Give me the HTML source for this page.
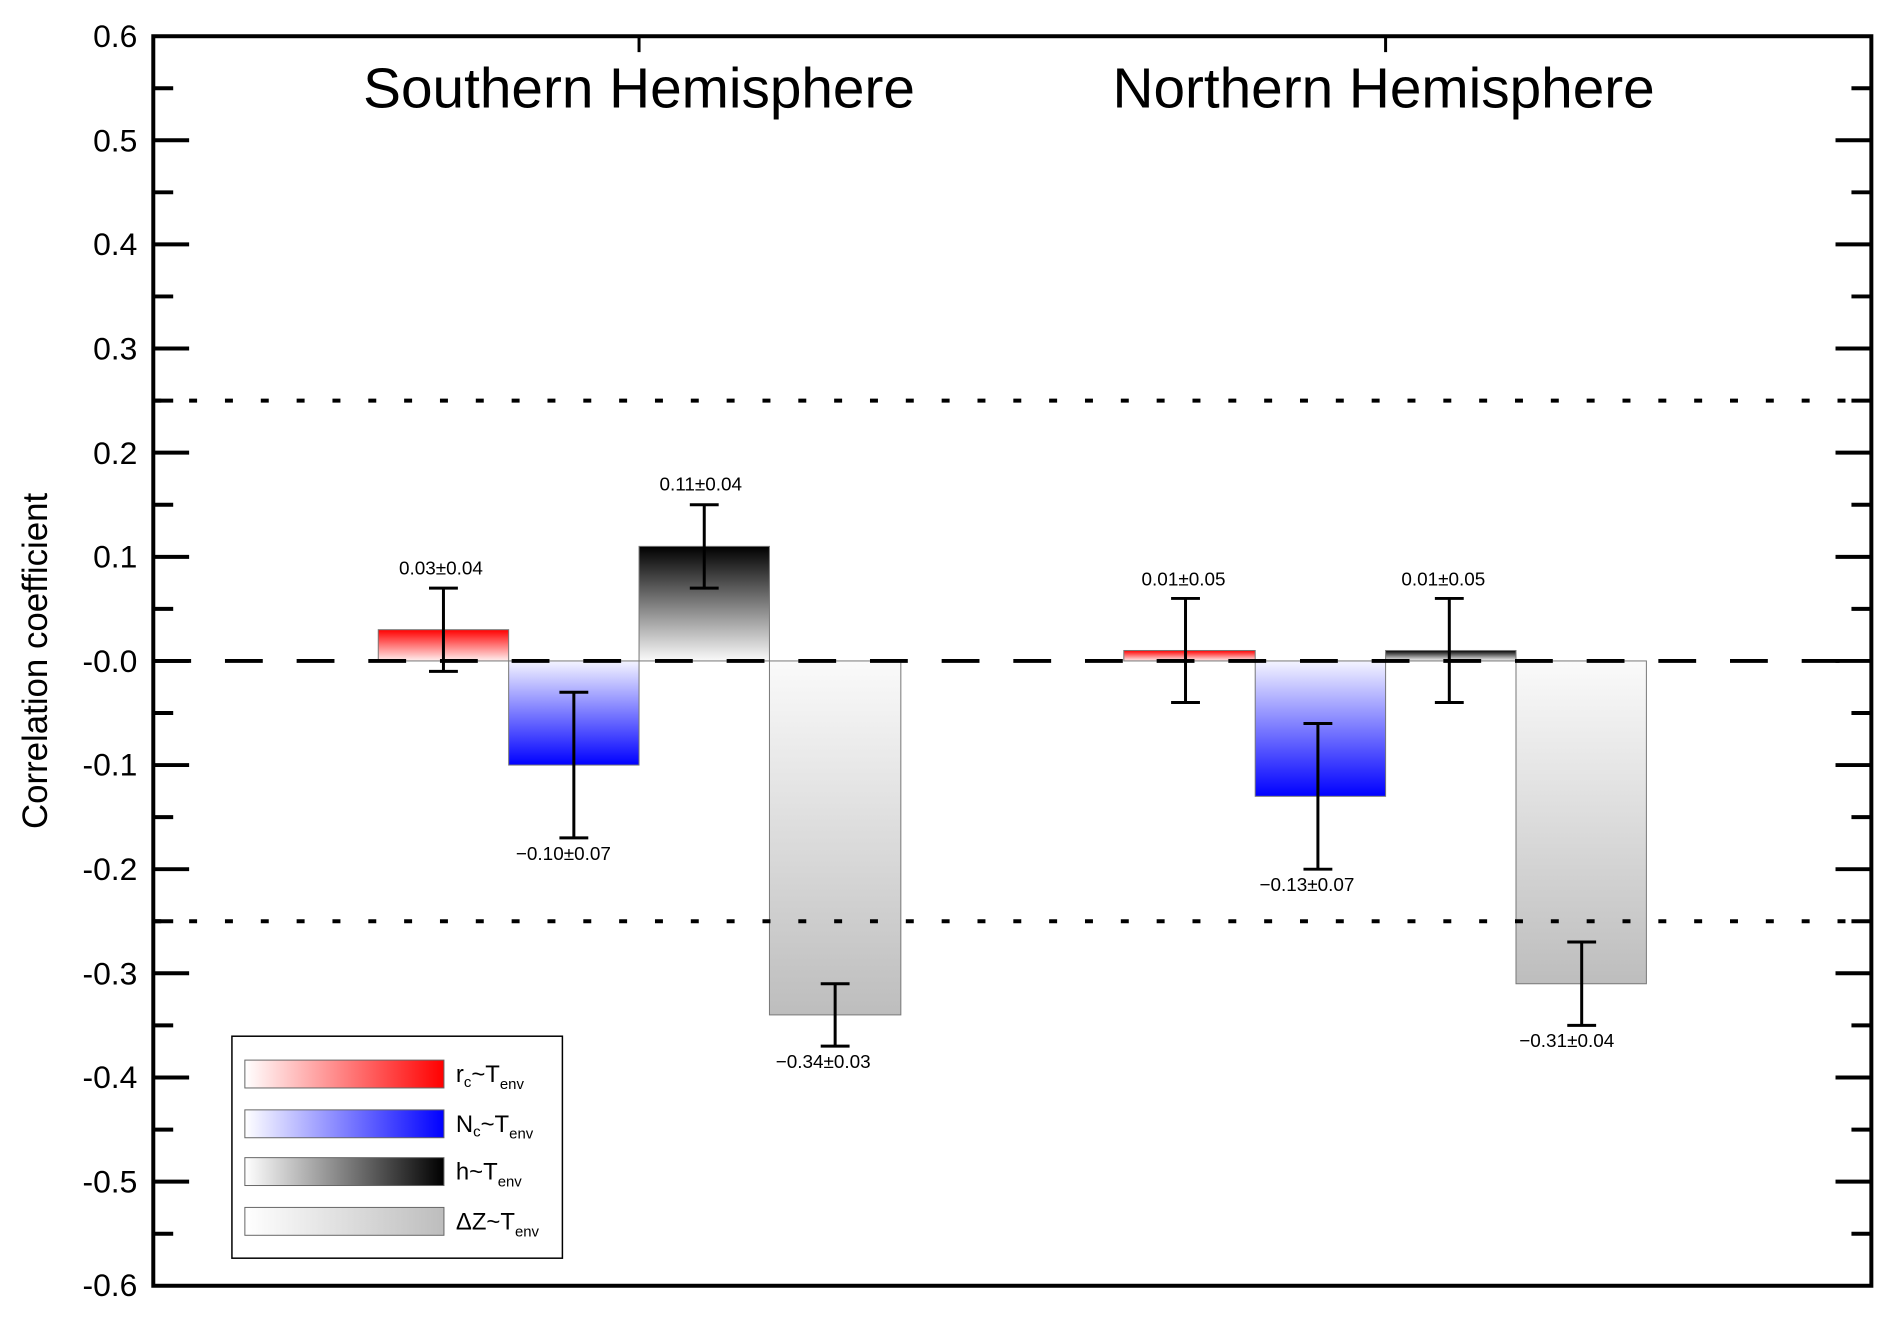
<!DOCTYPE html>
<html><head><meta charset="utf-8"><style>html,body{margin:0;padding:0;background:#fff}svg{display:block}</style></head>
<body>
<svg width="1892" height="1322" viewBox="0 0 1892 1322" xmlns="http://www.w3.org/2000/svg" font-family="Liberation Sans, sans-serif">
<defs>
<linearGradient id="rv" x1="0" y1="0" x2="0" y2="1"><stop offset="0" stop-color="#ff0000"/><stop offset="1" stop-color="#fff0f0"/></linearGradient>
<linearGradient id="bv" x1="0" y1="0" x2="0" y2="1"><stop offset="0" stop-color="#f4f4ff"/><stop offset="1" stop-color="#0000ff"/></linearGradient>
<linearGradient id="kv" x1="0" y1="0" x2="0" y2="1"><stop offset="0" stop-color="#000"/><stop offset="1" stop-color="#fafafa"/></linearGradient>
<linearGradient id="gv" x1="0" y1="0" x2="0" y2="1"><stop offset="0" stop-color="#fafafa"/><stop offset="1" stop-color="#bdbdbd"/></linearGradient>
<linearGradient id="rh"><stop offset="0" stop-color="#fff"/><stop offset="1" stop-color="#ff0000"/></linearGradient>
<linearGradient id="bh"><stop offset="0" stop-color="#fff"/><stop offset="1" stop-color="#0000ff"/></linearGradient>
<linearGradient id="kh"><stop offset="0" stop-color="#fff"/><stop offset="1" stop-color="#000"/></linearGradient>
<linearGradient id="gh"><stop offset="0" stop-color="#fff"/><stop offset="1" stop-color="#bdbdbd"/></linearGradient>
</defs>
<g transform="scale(0.9954)">
<!-- bars SH -->
<rect x="380" y="632.6" width="131" height="31.4" fill="url(#rv)" stroke="#777" stroke-width="1"/>
<rect x="511" y="664" width="131" height="104.6" fill="url(#bv)" stroke="#777" stroke-width="1"/>
<rect x="642" y="548.9" width="131" height="115.1" fill="url(#kv)" stroke="#777" stroke-width="1"/>
<rect x="773" y="664" width="132" height="355.6" fill="url(#gv)" stroke="#777" stroke-width="1"/>
<!-- bars NH -->
<rect x="1129" y="653.5" width="132" height="10.5" fill="url(#rv)" stroke="#777" stroke-width="1"/>
<rect x="1261" y="664" width="131" height="136" fill="url(#bv)" stroke="#777" stroke-width="1"/>
<rect x="1392" y="653.5" width="131" height="10.5" fill="url(#kv)" stroke="#777" stroke-width="1"/>
<rect x="1523" y="664" width="131" height="324.3" fill="url(#gv)" stroke="#777" stroke-width="1"/>

<line x1="154" y1="402.5" x2="1880" y2="402.5" stroke="#000" stroke-width="4" stroke-dasharray="8 28"/>
<line x1="154" y1="925.5" x2="1880" y2="925.5" stroke="#000" stroke-width="4" stroke-dasharray="8 28"/>
<line x1="154" y1="664" x2="1880" y2="664" stroke="#000" stroke-width="4" stroke-dasharray="38 34"/>

<g stroke="#000" stroke-width="3" fill="none">
<path d="M445.5 590.8V674.5M431 590.8h29M431 674.5h29"/>
<path d="M576.5 695.4V841.8M562 695.4h29M562 841.8h29"/>
<path d="M707.5 507.1V590.8M693 507.1h29M693 590.8h29"/>
<path d="M839 988.3V1051M824.5 988.3h29M824.5 1051h29"/>
<path d="M1191 601.2V705.8M1176.5 601.2h29M1176.5 705.8h29"/>
<path d="M1324 726.8V873.2M1309.5 726.8h29M1309.5 873.2h29"/>
<path d="M1456 601.2V705.8M1441.5 601.2h29M1441.5 705.8h29"/>
<path d="M1589 946.4V1030.1M1574.5 946.4h29M1574.5 1030.1h29"/>
</g>

<g font-size="19" text-anchor="middle" fill="#000">
<text x="443" y="577">0.03±0.04</text>
<text x="704" y="493">0.11±0.04</text>
<text x="566" y="864">−0.10±0.07</text>
<text x="827" y="1073">−0.34±0.03</text>
<text x="1189" y="588">0.01±0.05</text>
<text x="1450" y="588">0.01±0.05</text>
<text x="1313" y="895">−0.13±0.07</text>
<text x="1574" y="1052">−0.31±0.04</text>
</g>

<rect x="154" y="36.4" width="1726" height="1255.3" fill="none" stroke="#000" stroke-width="4"/>
<g stroke="#000" stroke-width="4">
<path d="M154 140.9h36M154 245.5h36M154 350.1h36M154 454.7h36M154 559.4h36M154 664h36M154 768.6h36M154 873.2h36M154 977.8h36M154 1082.5h36M154 1187.1h36"/>
<path d="M154 88.7h20M154 193.2h20M154 297.8h20M154 402.5h20M154 507.1h20M154 611.7h20M154 716.3h20M154 820.9h20M154 925.5h20M154 1030.1h20M154 1134.8h20M154 1239.4h20"/>
<path d="M1880 140.9h-36M1880 245.5h-36M1880 350.1h-36M1880 454.7h-36M1880 559.4h-36M1880 664h-36M1880 768.6h-36M1880 873.2h-36M1880 977.8h-36M1880 1082.5h-36M1880 1187.1h-36"/>
<path d="M1880 88.7h-20M1880 193.2h-20M1880 297.8h-20M1880 402.5h-20M1880 507.1h-20M1880 611.7h-20M1880 716.3h-20M1880 820.9h-20M1880 925.5h-20M1880 1030.1h-20M1880 1134.8h-20M1880 1239.4h-20"/>
<path d="M642 36.4v16M1392 36.4v16" stroke-width="3"/>
</g>

<g font-size="32" text-anchor="end" fill="#000">
<text x="138" y="47">0.6</text>
<text x="138" y="152">0.5</text>
<text x="138" y="256">0.4</text>
<text x="138" y="361">0.3</text>
<text x="138" y="466">0.2</text>
<text x="138" y="570">0.1</text>
<text x="138" y="675">-0.0</text>
<text x="138" y="779">-0.1</text>
<text x="138" y="884">-0.2</text>
<text x="138" y="989">-0.3</text>
<text x="138" y="1093">-0.4</text>
<text x="138" y="1198">-0.5</text>
<text x="138" y="1302">-0.6</text>
</g>

<text transform="translate(47,664) rotate(-90)" font-size="35" text-anchor="middle" fill="#000">Correlation coefficient</text>

<text x="642" y="108" font-size="57" text-anchor="middle" fill="#000">Southern Hemisphere</text>
<text x="1390" y="108" font-size="57" text-anchor="middle" fill="#000">Northern Hemisphere</text>

<rect x="233" y="1041" width="332" height="223" fill="#fff" stroke="#000" stroke-width="1.5"/>
<rect x="246" y="1065" width="200" height="28" fill="url(#rh)" stroke="#666" stroke-width="1"/>
<rect x="246" y="1115" width="200" height="28" fill="url(#bh)" stroke="#666" stroke-width="1"/>
<rect x="246" y="1163" width="200" height="28" fill="url(#kh)" stroke="#666" stroke-width="1"/>
<rect x="246" y="1213" width="200" height="28" fill="url(#gh)" stroke="#666" stroke-width="1"/>
<g font-size="24" fill="#000">
<text x="458" y="1087">r<tspan font-size="15" dy="5">c</tspan><tspan dy="-5">~T</tspan><tspan font-size="15" dy="7">env</tspan></text>
<text x="458" y="1137">N<tspan font-size="15" dy="5">c</tspan><tspan dy="-5">~T</tspan><tspan font-size="15" dy="7">env</tspan></text>
<text x="458" y="1185">h~T<tspan font-size="15" dy="7">env</tspan></text>
<text x="458" y="1235">ΔZ~T<tspan font-size="15" dy="7">env</tspan></text>
</g>
</g>
</svg>
</body></html>
